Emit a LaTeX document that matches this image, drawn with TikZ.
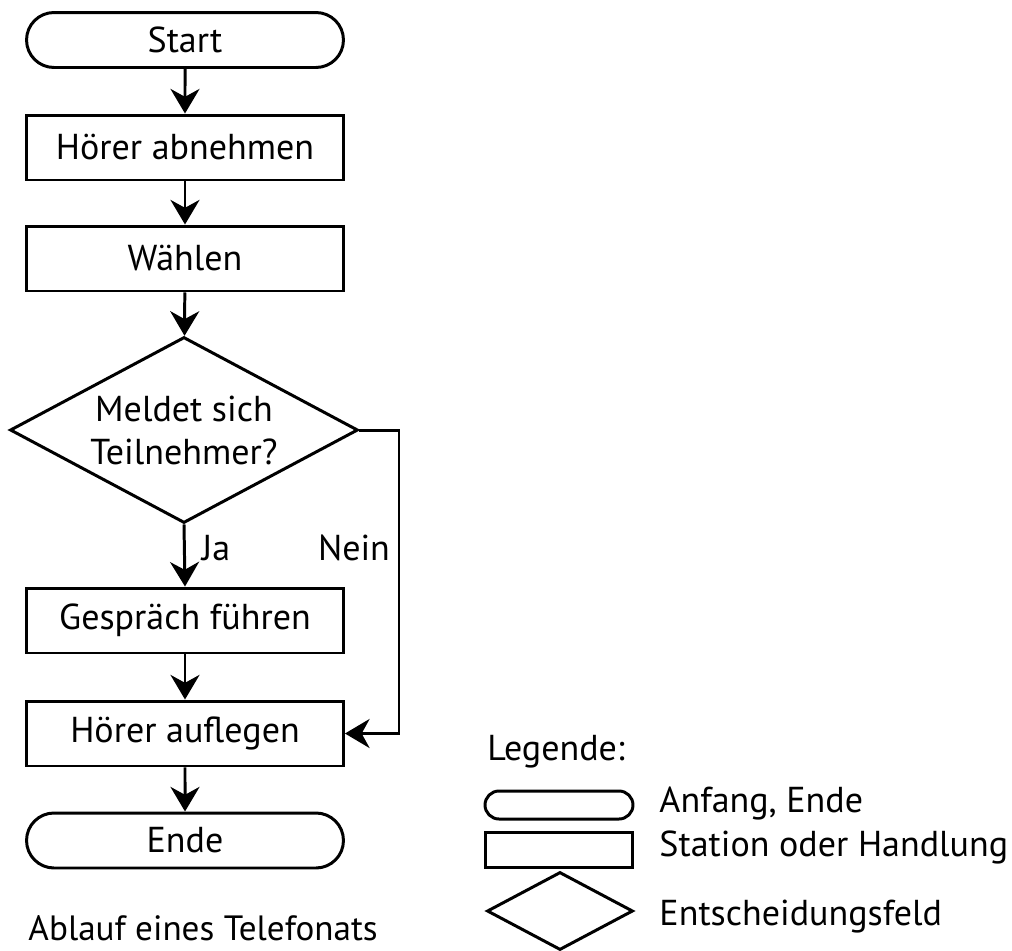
\documentclass[tikz,border=0pt]{standalone}
\usepackage{fontspec}
\setmainfont{PT Sans}
\usetikzlibrary{shapes.geometric,shapes.misc,arrows.meta}
\begin{document}
\begin{tikzpicture}[x=0.02cm,y=-0.02cm,
  line width=1.7pt,
  font=\fontsize{20.5}{24.5}\selectfont,
  term/.style={draw,rounded rectangle,minimum width=6.34cm,minimum height=1.1cm,inner sep=0pt},
  stepbox/.style={draw,rectangle,minimum width=6.34cm,minimum height=1.3cm,inner sep=0pt},
  decide/.style={draw,diamond,shape aspect=1.87,minimum width=6.96cm,minimum height=3.72cm,inner sep=0pt,align=center},
  flow/.style={-{Stealth[length=14pt,width=16.5pt,inset=4.5pt]}},
  lbl/.style={inner sep=0pt}
]
\useasboundingbox (0,0) rectangle (1012,951);
\node[term] (start) at (185,40) {Start};
\node[stepbox] (abn) at (185,147.5) {Hörer abnehmen};
\node[stepbox] (waehl) at (185,258.5) {Wählen};
\node[decide] (dec) at (184,430) {Meldet sich\\Teilnehmer?};
\node[stepbox] (gespr) at (185,620.5) {Gespräch führen};
\node[stepbox] (aufl) at (185,733.5) {Hörer auflegen};
\node[term] (ende) at (185,840.5) {Ende};
\coordinate (c1) at (399,430);
\coordinate (c2) at (399,733.5);
\draw[flow] (start) -- (abn);
\draw[flow] (abn) -- (waehl);
\draw[flow] (waehl) -- (dec);
\draw[flow] (dec.south) -- (gespr.north);
\draw[flow] (gespr) -- (aufl);
\draw[flow] (aufl) -- (ende);
\draw[flow] (dec.east) -- (c1) -- (c2) -- (aufl.east);
\node[lbl] (ja) at (216,548) {Ja};
\node[lbl] (nein) at (354,548) {Nein};
\node[lbl,anchor=base west,font=\fontsize{20}{24}\selectfont] (titel) at (27,940) {Ablauf eines Telefonats};
% legend
\node[lbl,anchor=west] (leg) at (486,752) {Legende:};
\node[draw,rounded rectangle,minimum width=2.96cm,minimum height=0.56cm,inner sep=0pt] (lt) at (559,805) {};
\node[draw,rectangle,minimum width=2.96cm,minimum height=0.7cm,inner sep=0pt] (lr) at (559,849.5) {};
\node[draw,diamond,minimum width=2.92cm,minimum height=1.56cm,inner sep=0pt] (ld) at (560,911) {};
\node[lbl,anchor=west] (lt1) at (658,804) {Anfang, Ende};
\node[lbl,anchor=west] (lr1) at (658,847) {Station oder Handlung};
\node[lbl,anchor=west] (ld1) at (658,917) {Entscheidungsfeld};
\end{tikzpicture}
\end{document}
